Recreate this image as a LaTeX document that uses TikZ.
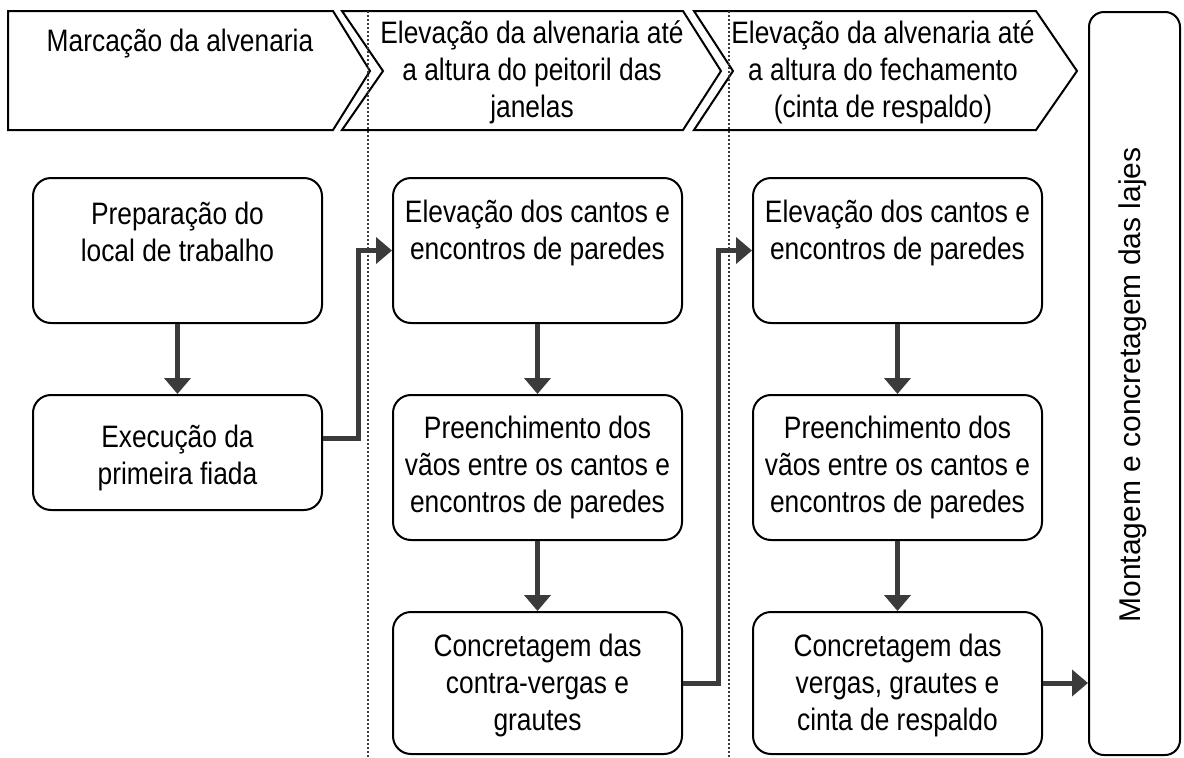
\documentclass[tikz,border=0pt]{standalone}
\usepackage{fontspec}
\setmainfont{Liberation Sans}[FakeStretch=0.85]
\newfontfamily\vfont{Liberation Sans}
\usetikzlibrary{arrows.meta}
\definecolor{arrowgray}{HTML}{3B3B3B}
\definecolor{dotgray}{HTML}{3A3A3A}
\tikzset{
  box/.style={draw=black, line width=2pt, rounded corners=18pt, minimum width=289pt, inner sep=0pt},
  txt/.style={align=center, font=\fontsize{31}{37}\selectfont, inner sep=0pt},
  chev/.style={draw=black, line width=2pt, line join=miter},
  flow/.style={draw=arrowgray, line width=5pt, -{Triangle[length=16pt,width=26pt]}},
  divider/.style={draw=dotgray, line width=2pt, dash pattern=on 2pt off 2pt}
}
\begin{document}
\begin{tikzpicture}[x=1pt,y=-1pt]
\useasboundingbox (0,0) rectangle (1184,758);

% chevrons
\draw[chev] (8,11) -- (333,11) -- (370,71) -- (333,130) -- (8,130) -- cycle;
\draw[chev] (342,11) -- (683,11) -- (721,71) -- (683,130) -- (342,130) -- (383,71) -- cycle;
\draw[chev] (694,11) -- (1036,11) -- (1077,71) -- (1036,130) -- (694,130) -- (733,71) -- cycle;
\node[txt] (h1) at (180,44) {Marcação da alvenaria};
\node[txt] (h2) at (532,72) {Elevação da alvenaria até\\a altura do peitoril das\\janelas};
\node[txt] (h3) at (883,72) {Elevação da alvenaria até\\a altura do fechamento\\(cinta de respaldo)};

% column 1
\node[box, minimum height=145pt] (a1) at (177.5,250.5) {};
\node[box, minimum height=115pt] (b1) at (177.5,452.5) {};
\node[txt] (ta1) at (177.5,232) {Preparação do\\local de trabalho};
\node[txt] (tb1) at (177.5,458) {Execução da\\primeira fiada};

% column 2
\node[box, minimum height=145pt] (a2) at (537.5,250.5) {};
\node[box, minimum height=145pt] (b2) at (537.5,467.5) {};
\node[box, minimum height=142pt] (c2) at (537.5,683) {};
\node[txt] (ta2) at (537.5,233) {Elevação dos cantos e\\encontros de paredes};
\node[txt] (tb2) at (537.5,467) {Preenchimento dos\\vãos entre os cantos e\\encontros de paredes};
\node[txt] (tc2) at (537.5,685) {Concretagem das\\contra-vergas e\\grautes};

% column 3
\node[box, minimum height=145pt] (a3) at (897.5,250.5) {};
\node[box, minimum height=145pt] (b3) at (897.5,467.5) {};
\node[box, minimum height=142pt] (c3) at (897.5,683) {};
\node[txt] (ta3) at (897.5,233) {Elevação dos cantos e\\encontros de paredes};
\node[txt] (tb3) at (897.5,467) {Preenchimento dos\\vãos entre os cantos e\\encontros de paredes};
\node[txt] (tc3) at (897.5,685) {Concretagem das\\vergas, grautes e\\cinta de respaldo};

% final column
\node[draw=black, line width=2pt, rounded corners=15pt, minimum width=91pt, minimum height=743pt, inner sep=0pt] (m) at (1134.5,383.5) {};
\node[rotate=90, inner sep=0pt, font=\vfont\fontsize{30}{36}\selectfont] (tm) at (1133,385) {Montagem e concretagem das lajes};

% connectors
\draw[flow] (a1.south) -- (b1.north);
\draw[flow] (a2.south) -- (b2.north);
\draw[flow] (b2.south) -- (c2.north);
\draw[flow] (a3.south) -- (b3.north);
\draw[flow] (b3.south) -- (c3.north);
\draw[flow] ([yshift=14.5pt]b1.east) -- ++(35,0) |- (a1.west -| a2.west);
\draw[flow] (c2.east) -- ++(35,0) |- (a3.west);
\draw[flow] (c3.east) -- (c3.east -| m.west);

% dotted dividers
\coordinate (d1t) at (368,11);
\coordinate (d1b) at (368,758);
\coordinate (d2t) at (729,11);
\coordinate (d2b) at (729,758);
\draw[divider] (d1t) -- (d1b);
\draw[divider] (d2t) -- (d2b);
\end{tikzpicture}
\end{document}
